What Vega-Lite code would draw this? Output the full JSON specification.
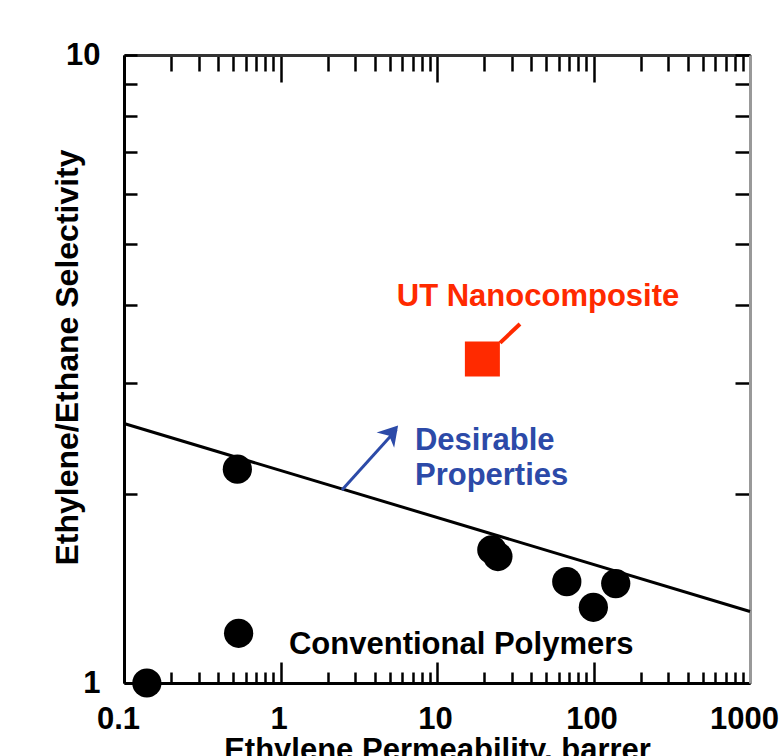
{
  "$schema": "https://vega.github.io/schema/vega-lite/v6.json",
  "width": 626,
  "height": 628,
  "autosize": "none",
  "padding": {"left": 124, "top": 55, "right": 30, "bottom": 73},
  "background": "white",
  "config": {"view": {"stroke": null}, "font": "Liberation Sans"},
  "datasets": {
    "trend": [{"x": 0.1, "y": 2.59}, {"x": 1000, "y": 1.30}],
    "polymers": [
      {"x": 0.14, "y": 1.0},
      {"x": 0.53, "y": 2.19},
      {"x": 0.54, "y": 1.20},
      {"x": 22.4, "y": 1.63},
      {"x": 24.5, "y": 1.59},
      {"x": 67.5, "y": 1.45},
      {"x": 99.8, "y": 1.32},
      {"x": 138.7, "y": 1.44}
    ],
    "nano": [{"x": 19.5, "y": 3.28}],
    "leader": [{"x": 25.3, "y": 3.48}, {"x": 33.9, "y": 3.73}],
    "arrow": [{"x": 2.47, "y": 2.03}, {"x": 5.5, "y": 2.53}],
    "arrowtip": [{"x": 5.64, "y": 2.57}],
    "nanoLabel": [{"x": 44.2, "y": 4.12, "label": "UT Nanocomposite"}],
    "desirable": [
      {"x": 7.23, "y": 2.43, "label": "Desirable"},
      {"x": 7.23, "y": 2.14, "label": "Properties"}
    ],
    "conventional": [{"x": 1.133, "y": 1.15, "label": "Conventional Polymers"}]
  },
  "resolve": {"axis": {"x": "independent", "y": "independent"}},
  "layer": [
    {
      "data": {"name": "trend"},
      "mark": {"type": "line", "color": "black", "strokeWidth": 3},
      "encoding": {
        "x": {
          "field": "x", "type": "quantitative",
          "scale": {"type": "log", "domain": [0.1, 1000], "nice": false},
          "axis": {
            "orient": "bottom",
            "values": [0.1,0.2,0.3,0.4,0.5,0.6,0.7,0.8,0.9,1,2,3,4,5,6,7,8,9,10,20,30,40,50,60,70,80,90,100,200,300,400,500,600,700,800,900,1000],
            "labelExpr": "abs(log(datum.value)/LN10 - round(log(datum.value)/LN10)) < 0.001 ? format(datum.value, '~g') : ''",
            "tickSize": {"condition": {"test": "abs(log(datum.value)/LN10 - round(log(datum.value)/LN10)) < 0.001", "value": -21}, "value": -11},
            "tickColor": "black", "tickWidth": 2.5,
            "domainColor": "black", "domainWidth": 3,
            "grid": false,
            "labelFont": "Liberation Sans", "labelFontSize": 31, "labelFontWeight": "bold", "labelColor": "black",
            "labelPadding": 42, "labelFlush": false, "labelOverlap": false, "labelBaseline": "top",
            "labelOffset": {"condition": {"test": "datum.value == 1000 || datum.value == 0.1", "value": -6}, "value": -2},
            "title": "Ethylene Permeability, barrer",
            "titleFont": "Liberation Sans", "titleFontSize": 31, "titleFontWeight": "bold", "titleColor": "black",
            "titleBaseline": "alphabetic", "titleY": 76, "titleX": 313, "titleAlign": "center"
          }
        },
        "y": {
          "field": "y", "type": "quantitative",
          "scale": {"type": "log", "domain": [1, 10], "nice": false},
          "axis": {
            "orient": "left",
            "values": [1,2,3,4,5,6,7,8,9,10],
            "format": "~g",
            "labelExpr": "datum.value == 1 || datum.value == 10 ? datum.label : ''",
            "tickSize": -13,
            "tickColor": "black", "tickWidth": 2.5,
            "domainColor": "black", "domainWidth": 3,
            "grid": false,
            "labelFont": "Liberation Sans", "labelFontSize": 31, "labelFontWeight": "bold", "labelColor": "black",
            "labelPadding": 37, "labelBaseline": "middle", "labelAlign": "right", "labelOverlap": false,
            "title": "Ethylene/Ethane Selectivity",
            "titleFont": "Liberation Sans", "titleFontSize": 32, "titleFontWeight": "bold", "titleColor": "black",
            "titleAngle": -90, "titleBaseline": "alphabetic", "titleAlign": "center",
            "titleX": -47, "titleY": 302
          }
        }
      }
    },
    {
      "data": {"name": "polymers"},
      "mark": {"type": "point", "shape": "circle", "filled": true, "color": "black", "opacity": 1, "size": 855},
      "encoding": {
        "x": {
          "field": "x", "type": "quantitative",
          "scale": {"type": "log", "domain": [0.1, 1000], "nice": false},
          "axis": {
            "orient": "top",
            "values": [0.1,0.2,0.3,0.4,0.5,0.6,0.7,0.8,0.9,1,2,3,4,5,6,7,8,9,10,20,30,40,50,60,70,80,90,100,200,300,400,500,600,700,800,900,1000],
            "labels": false,
            "tickSize": {"condition": {"test": "abs(log(datum.value)/LN10 - round(log(datum.value)/LN10)) < 0.001", "value": -27}, "value": -16},
            "tickColor": "black", "tickWidth": 2.5,
            "domainColor": "#333333", "domainWidth": 3,
            "grid": false, "title": null
          }
        },
        "y": {
          "field": "y", "type": "quantitative",
          "scale": {"type": "log", "domain": [1, 10], "nice": false},
          "axis": {
            "orient": "right",
            "values": [1,2,3,4,5,6,7,8,9,10],
            "labels": false,
            "tickSize": -15,
            "tickColor": "black", "tickWidth": 2.5,
            "domainColor": "#999999", "domainWidth": 3,
            "grid": false, "title": null
          }
        }
      }
    },
    {
      "data": {"name": "leader"},
      "mark": {"type": "line", "color": "#ff2a00", "strokeWidth": 4},
      "encoding": {
        "x": {"field": "x", "type": "quantitative", "axis": null},
        "y": {"field": "y", "type": "quantitative", "axis": null}
      }
    },
    {
      "data": {"name": "nano"},
      "mark": {"type": "point", "shape": "square", "filled": true, "color": "#ff2a00", "opacity": 1, "size": 1225},
      "encoding": {
        "x": {"field": "x", "type": "quantitative", "axis": null},
        "y": {"field": "y", "type": "quantitative", "axis": null}
      }
    },
    {
      "data": {"name": "arrow"},
      "mark": {"type": "line", "color": "#2c4aa8", "strokeWidth": 3},
      "encoding": {
        "x": {"field": "x", "type": "quantitative", "axis": null},
        "y": {"field": "y", "type": "quantitative", "axis": null}
      }
    },
    {
      "data": {"name": "arrowtip"},
      "mark": {"type": "point", "shape": "M0,0 L-0.6,1 L0,0.7 L0.6,1 Z", "filled": true, "color": "#2c4aa8", "opacity": 1, "size": 1500, "angle": 41},
      "encoding": {
        "x": {"field": "x", "type": "quantitative", "axis": null},
        "y": {"field": "y", "type": "quantitative", "axis": null}
      }
    },
    {
      "data": {"name": "nanoLabel"},
      "mark": {"type": "text", "font": "Liberation Sans", "fontSize": 31, "fontWeight": "bold", "color": "#ff2a00", "align": "center", "baseline": "middle"},
      "encoding": {
        "x": {"field": "x", "type": "quantitative", "axis": null},
        "y": {"field": "y", "type": "quantitative", "axis": null},
        "text": {"field": "label"}
      }
    },
    {
      "data": {"name": "desirable"},
      "mark": {"type": "text", "font": "Liberation Sans", "fontSize": 31, "fontWeight": "bold", "color": "#2c4aa8", "align": "left", "baseline": "middle"},
      "encoding": {
        "x": {"field": "x", "type": "quantitative", "axis": null},
        "y": {"field": "y", "type": "quantitative", "axis": null},
        "text": {"field": "label"}
      }
    },
    {
      "data": {"name": "conventional"},
      "mark": {"type": "text", "font": "Liberation Sans", "fontSize": 31, "fontWeight": "bold", "color": "black", "align": "left", "baseline": "middle"},
      "encoding": {
        "x": {"field": "x", "type": "quantitative", "axis": null},
        "y": {"field": "y", "type": "quantitative", "axis": null},
        "text": {"field": "label"}
      }
    }
  ]
}
